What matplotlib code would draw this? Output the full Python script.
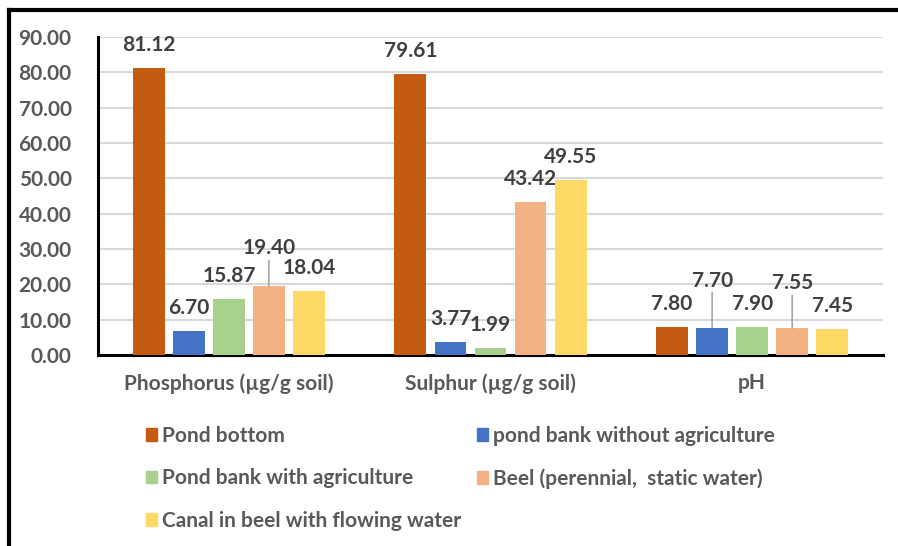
import numpy as np
import matplotlib.pyplot as plt
from matplotlib.patches import Patch
from matplotlib.lines import Line2D

plt.rcParams['font.family'] = ['Lato', 'DejaVu Sans']
plt.rcParams['font.weight'] = 'bold'

# data
categories = ['Phosphorus (µg/g soil)', 'Sulphur (µg/g soil)', 'pH']
series_names = ['Pond bottom', 'pond bank without agriculture', 'Pond bank with agriculture',
                'Beel (perennial,  static water)', 'Canal in beel with flowing water']
pond_bottom = [81.12, 79.61, 7.80]
bank_no_agri = [6.70, 3.77, 7.70]
bank_agri = [15.87, 1.99, 7.90]
beel = [19.40, 43.42, 7.55]
canal = [18.04, 49.55, 7.45]
yticks = [0, 10, 20, 30, 40, 50, 60, 70, 80, 90]

colors = ['#C55A11', '#4472C4', '#A9D18E', '#F4B183', '#FFD966']
all_series = [pond_bottom, bank_no_agri, bank_agri, beel, canal]

# labels that Excel moved up with a leader line: (series, category) -> extra pixels
moved = {(3, 0): 15, (1, 2): 24, (3, 2): 22}

fig = plt.figure(figsize=(8.98, 5.46), dpi=100)
ax = fig.add_axes([98 / 898, 1 - 355 / 546, (883 - 98) / 898, (355 - 37) / 546])

x = np.arange(len(categories))
step = 0.153
width = 0.122
for i, vals in enumerate(all_series):
    xs = x + (i - 2) * step
    ax.bar(xs, vals, width, color=colors[i], zorder=3)
    for j, (xx, v) in enumerate(zip(xs, vals)):
        off = 23 + moved.get((i, j), 0)
        ax.annotate(f'{v:.2f}', (xx, v), xytext=(0, off), textcoords='offset pixels',
                    ha='center', va='center', fontsize=15, fontweight='bold', color='#404040')
        if (i, j) in moved:
            ax.annotate('', (xx, v), xytext=(0, off - 12), textcoords='offset pixels',
                        arrowprops=dict(arrowstyle='-', color='#a6a6a6', lw=1.2,
                                        shrinkA=0, shrinkB=0))

ax.set_xlim(-0.5, 2.5)
ax.set_ylim(0, 90)
ax.set_yticks(yticks)
ax.set_yticklabels([f'{t:.2f}' for t in yticks])
ax.set_xticks(x)
ax.set_xticklabels(categories)
ax.tick_params(axis='both', length=0, labelsize=15, labelcolor='#595959')
ax.tick_params(axis='y', pad=19)
ax.tick_params(axis='x', pad=13)
for lbl in ax.get_xticklabels() + ax.get_yticklabels():
    lbl.set_fontweight('bold')
ax.grid(axis='y', color='#d9d9d9', lw=1.5, zorder=0)
ax.spines['top'].set_visible(False)
ax.spines['right'].set_visible(False)
ax.spines['left'].set_linewidth(2.2)
ax.spines['bottom'].set_linewidth(2.2)

handles = [Patch(color=c) for c in colors]
order = [0, 2, 4, 1, 3]
fig.legend([handles[k] for k in order], [series_names[k] for k in order],
           ncol=2, loc='upper left', bbox_to_anchor=(127 / 898, 1 - 407 / 546),
           frameon=False, labelcolor='#595959',
           handlelength=0.56, handleheight=0.56, handletextpad=0.2,
           labelspacing=1.09, columnspacing=0.77,
           prop={'weight': 'bold', 'size': 15})

# outer frame (left and top edges only)
fig.add_artist(Line2D([9 / 898, 9 / 898], [0, 1 - 10 / 546], color='black', lw=3,
                      transform=fig.transFigure))
fig.add_artist(Line2D([9 / 898, 1], [1 - 10 / 546, 1 - 10 / 546], color='black', lw=3,
                      transform=fig.transFigure))

fig.savefig('out.png', dpi=100)
